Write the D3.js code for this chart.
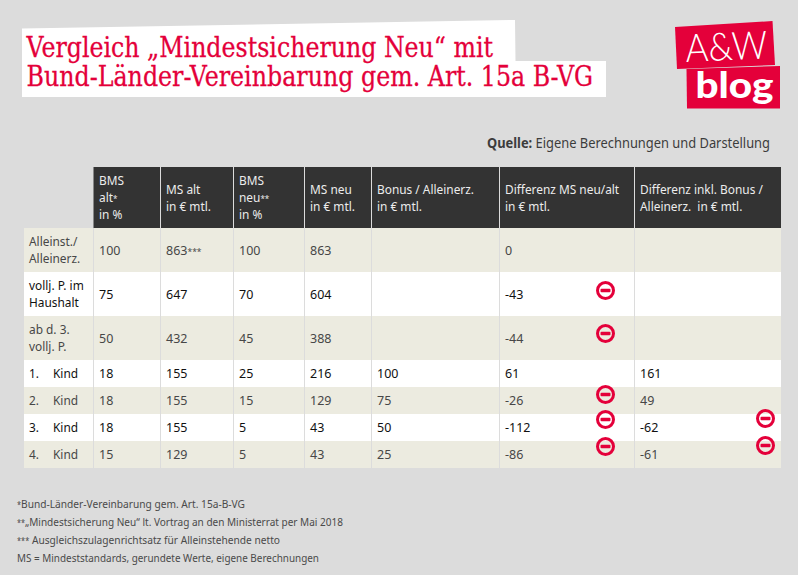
<!DOCTYPE html>
<html><head><meta charset="utf-8">
<script src="https://cdn.jsdelivr.net/npm/d3@7"></script>
<style>html,body{margin:0;padding:0;background:#dcdcdc}svg{display:block}</style>
</head><body><svg id="c" width="798" height="575"></svg>
<script>
// ---- data ----
const titleLines = ["Vergleich „Mindestsicherung Neu“ mit", "Bund-Länder-Vereinbarung gem. Art. 15a B-VG"];
const headers = [
  ["BMS","alt*","in %"],
  ["MS alt","in € mtl."],
  ["BMS","neu**","in %"],
  ["MS neu","in € mtl."],
  ["Bonus / Alleinerz.","in € mtl."],
  ["Differenz MS neu/alt","in € mtl."],
  ["Differenz inkl. Bonus /","Alleinerz.  in € mtl."]
];
const rowLabels = [["Alleinst./","Alleinerz."],["vollj. P. im","Haushalt"],["ab d. 3.","vollj. P."],["1.","Kind"],["2.","Kind"],["3.","Kind"],["4.","Kind"]];
const bmsAlt   = ["100","75","50","18","18","18","15"];
const msAlt    = ["863***","647","432","155","155","155","129"];
const bmsNeu   = ["100","70","45","25","15","5","5"];
const msNeu    = ["863","604","388","216","129","43","43"];
const bonus    = ["","","","100","75","50","25"];
const diff     = ["0","-43","-44","61","-26","-112","-86"];
const diffBonus= ["","","","161","49","-62","-61"];
const columns = [bmsAlt,msAlt,bmsNeu,msNeu,bonus,diff,diffBonus];
const footnotes = ["*Bund-Länder-Vereinbarung gem. Art. 15a-B-VG","**„Mindestsicherung Neu“ lt. Vortrag an den Ministerrat per Mai 2018","*** Ausgleichszulagenrichtsatz für Alleinstehende netto","MS = Mindeststandards, gerundete Werte, eigene Berechnungen"];

// ---- layout ----
const BODY = "'Noto Sans',sans-serif";
const svg = d3.select("#c");
const colEdge = d3.scaleOrdinal(d3.range(8), [93.5,160.5,233.5,304.5,371.5,499.5,634.5,781]);
const rowEdge = d3.scaleOrdinal(d3.range(8), [228,272,316,360,387,414,441,468]);
const beige = "#ecebe0";
// writes a string with its asterisks as small, separate runs
const runs = (sel, starSize) => sel.each(function(d){
  const t = d3.select(this).text(null);
  (d.match(/\*+|[^*]+/g)||[]).forEach(p=>{
    const s = t.append("tspan").text(p);
    if(p[0]==="*") s.attr("font-size",starSize);
  });
});
const fit = (sel, f) => sel.each(function(){
  const w = this.getComputedTextLength();
  d3.select(this).attr("textLength", w*f).attr("lengthAdjust","spacingAndGlyphs");
});

// title background
svg.append("path").attr("fill","#fff").attr("d","M22,28.5L515,20L515.5,61L606,61L606,97L22,97Z");
const titleEnds = [493,593];
svg.selectAll(".t").data(titleLines).join("text").attr("class","t")
  .attr("x",26.5).attr("y",(d,i)=>56.5+i*29.5)
  .attr("font-family","'DejaVu Serif',serif").attr("font-size",28).attr("fill","#e4003a")
  .attr("stroke","#e4003a").attr("stroke-width",0.3)
  .text(d=>d).attr("textLength",(d,i)=>titleEnds[i]-26.5).attr("lengthAdjust","spacingAndGlyphs");

// logo
svg.append("path").attr("fill","#e4003a").attr("d","M675,27L772.5,21L775,65L677,69Z");
svg.append("path").attr("fill","#e4003a").attr("d","M686.5,69L780,66L780,108.5L687,108.5Z");
svg.append("text").attr("transform","translate(686,62) rotate(-2.5)").attr("font-family","Lato,sans-serif").attr("font-weight",300)
  .attr("font-size",39).attr("fill","#fff").text("A&W").attr("textLength",82).attr("lengthAdjust","spacingAndGlyphs");
svg.append("text").attr("x",695.5).attr("y",97.5).attr("font-family","Lato,sans-serif").attr("font-weight",900)
  .attr("font-size",36).attr("fill","#fff").text("blog").attr("textLength",78).attr("lengthAdjust","spacingAndGlyphs");

// source
const src = svg.append("text").attr("x",487).attr("y",148).attr("font-family",BODY).attr("font-size",13.5).attr("fill","#3c3c3c");
src.append("tspan").attr("font-weight",700).text("Quelle:");
src.append("tspan").text(" Eigene Berechnungen und Darstellung");
src.attr("textLength",283).attr("lengthAdjust","spacingAndGlyphs");

// header
svg.append("rect").attr("x",colEdge(0)).attr("y",167).attr("width",colEdge(7)-colEdge(0)).attr("height",61).attr("fill","#333");
// rows
svg.selectAll(".row").data(rowLabels).join("rect").attr("class","row")
  .attr("x",24).attr("width",781-24).attr("y",(d,i)=>rowEdge(i)).attr("height",(d,i)=>rowEdge(i+1)-rowEdge(i))
  .attr("fill",(d,i)=>i%2?"#fff":beige);
// column rules
svg.selectAll(".rule").data(d3.range(7)).join("line").attr("class","rule")
  .attr("x1",colEdge).attr("x2",colEdge)
  .attr("y1",i=>i?167:228).attr("y2",468).attr("stroke","#dcdcdc").attr("stroke-width",1);

const ink = i => i%2 ? "#111" : "#474747";
const midY = i => (rowEdge(i)+rowEdge(i+1))/2;
const SIZE = 12.5, SHRINK = 0.95;

// header text
headers.forEach((lines,c)=>{
  const lh = 17, top = 197.5-(lines.length-1)*lh/2;
  svg.append("g").selectAll("text").data(lines).join("text")
    .attr("x",colEdge(c)+5.5).attr("y",(d,i)=>top+i*lh+4.5)
    .attr("font-family",BODY).attr("font-size",SIZE).attr("fill","#ececec").attr("xml:space","preserve")
    .call(runs,8.5).call(fit,SHRINK);
});

// row labels
rowLabels.forEach((lab,r)=>{
  const kid = lab[1]==="Kind";
  svg.append("g").selectAll("text").data(lab).join("text")
    .attr("x",(d,i)=>kid? (i?53:29):29)
    .attr("y",(d,i)=>kid? midY(r)+4.5 : midY(r)-8.6+i*17.2+4.5)
    .attr("font-family",BODY).attr("font-size",SIZE).attr("fill",ink(r))
    .text(d=>d).call(fit,SHRINK);
});

// cells
columns.forEach((vals,c)=>{
  svg.append("g").selectAll("text").data(vals).join("text")
    .attr("x",colEdge(c)+5.5).attr("y",(d,r)=>midY(r)+4.5)
    .attr("font-family",BODY).attr("font-size",SIZE).attr("fill",(d,r)=>ink(r))
    .call(runs,8.5).filter(d=>d).call(fit,1);
});

// minus icons
const iconCols = [{vals:diff,x:605.5,nudge:[0,-3.5,-4.5,0,-6,-8,-8]},{vals:diffBonus,x:765.5,nudge:[0,0,0,0,0,-9,-9]}];
iconCols.forEach(ic=>{
  const g = svg.append("g").selectAll("g").data(ic.vals.map((v,r)=>({v,r})).filter(d=>+d.v<0)).join("g")
    .attr("transform",d=>`translate(${ic.x},${midY(d.r)+ic.nudge[d.r]})`);
  g.append("circle").attr("r",8).attr("fill","none").attr("stroke","#e4003a").attr("stroke-width",3);
  g.append("rect").attr("x",-5).attr("y",-1.7).attr("width",10).attr("height",3.4).attr("rx",1).attr("fill","#e4003a");
});

// footnotes
const noteEnds = [245,343,280,319];
svg.selectAll(".fn").data(footnotes).join("text").attr("class","fn")
  .attr("x",17).attr("y",(d,i)=>508+i*18)
  .attr("font-family",BODY).attr("font-size",11).attr("fill","#4a4a4a")
  .call(runs,8).attr("textLength",(d,i)=>noteEnds[i]-17).attr("lengthAdjust","spacingAndGlyphs");
</script></body></html>
